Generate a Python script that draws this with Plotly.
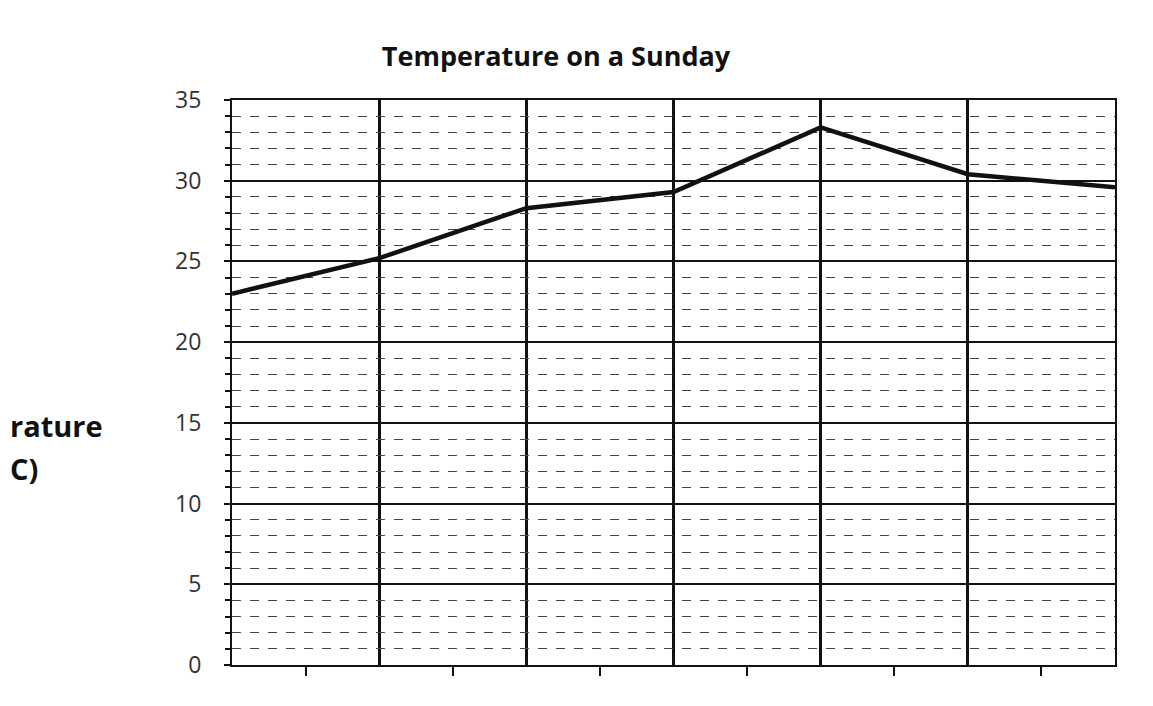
import plotly.graph_objects as go

hours = [0, 1, 2, 3, 4, 5, 6]
temperature = [23.0, 25.2, 28.3, 29.3, 33.3, 30.4, 29.6]
y_ticks = [0, 5, 10, 15, 20, 25, 30, 35]
x_tick_positions = [0.5, 1.5, 2.5, 3.5, 4.5, 5.5]
title_text = "Temperature on a Sunday"
ylabel_line1 = "rature"
ylabel_line2 = "C)"

OFF = 8  # page body margin
W, H = 1153 - OFF, 706 - OFF
ml, mt = 232 - OFF, 100 - OFF
mr = W - (1115 - OFF)
mb = H - (665 - OFF)
pw = W - ml - mr
ph = H - mt - mb


def px_x(page_x):
    return (page_x - OFF - ml) / pw


def px_y(page_y):
    return (665 - page_y) / ph


fig = go.Figure()
fig.add_trace(go.Scatter(
    x=hours, y=temperature, mode="lines",
    line=dict(color="#111111", width=4.5),
    showlegend=False, hoverinfo="skip",
))

fig.update_layout(
    width=W, height=H,
    margin=dict(l=ml, r=mr, t=mt, b=mb),
    paper_bgcolor="white", plot_bgcolor="white",
    font=dict(family="Open Sans, Noto Sans, sans-serif", color="#222222"),
    title=dict(text="<b>" + title_text + "</b>", x=(556 - OFF) / W,
               xanchor="center", y=1 - (57 - OFF) / H, yanchor="middle",
               font=dict(size=27, color="#111111")),
    annotations=[
        dict(text="<b>" + ylabel_line1 + "</b>", xref="paper", yref="paper",
             x=px_x(8), y=px_y(425), xanchor="left", yanchor="middle",
             showarrow=False, font=dict(size=29, color="#111111")),
        dict(text="<b>" + ylabel_line2 + "</b>", xref="paper", yref="paper",
             x=px_x(8), y=px_y(468), xanchor="left", yanchor="middle",
             showarrow=False, font=dict(size=29, color="#111111")),
    ],
)

fig.update_xaxes(
    range=[0, 6], showline=True, linecolor="#111111", linewidth=2, mirror=True,
    tickvals=x_tick_positions, showticklabels=False,
    ticks="outside", ticklen=9, tickwidth=1.5, tickcolor="#111111",
    showgrid=False, zeroline=False,
    minor=dict(tickvals=hours, showgrid=True, gridcolor="#111111", gridwidth=2.5,
               ticks=""),
)
fig.update_yaxes(
    range=[0, 35], tickvals=y_ticks, showline=True, linecolor="#111111",
    linewidth=2, mirror=True,
    ticks="outside", ticklen=6, tickwidth=1.5, tickcolor="#111111",
    tickfont=dict(size=23, color="#333333"), ticklabelstandoff=18,
    showgrid=True, gridcolor="#111111", gridwidth=2, zeroline=False,
    minor=dict(dtick=1, showgrid=True, gridcolor="#444444", gridwidth=1,
               griddash="dash", ticks="outside", ticklen=5,
               tickcolor="#111111"),
)

fig.write_html("out.html")
